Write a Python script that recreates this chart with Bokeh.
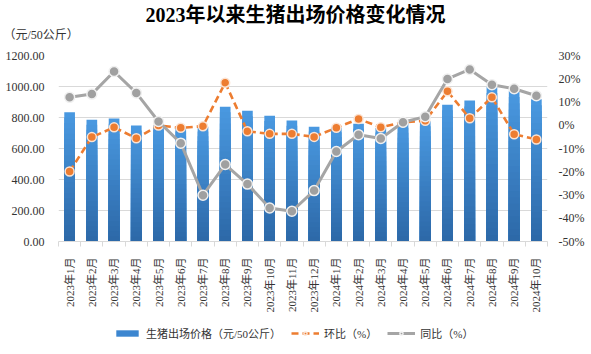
from bokeh.plotting import figure
from bokeh.layouts import column
from bokeh.models import (Range1d, LinearAxis, FixedTicker, PrintfTickFormatter,
                          Legend, LegendItem, Title, ColumnDataSource)
from bokeh.embed import file_html
from bokeh.resources import INLINE

months = ["2023年1月", "2023年2月", "2023年3月", "2023年4月", "2023年5月", "2023年6月",
          "2023年7月", "2023年8月", "2023年9月", "2023年10月", "2023年11月", "2023年12月",
          "2024年1月", "2024年2月", "2024年3月", "2024年4月", "2024年5月", "2024年6月",
          "2024年7月", "2024年8月", "2024年9月", "2024年10月"]
price = [834, 786, 793, 748, 752, 741, 741, 870, 844, 812, 780, 741,
         735, 759, 733, 765, 776, 883, 909, 1000, 973, 917]
mom = [-19.9, -5.1, -0.9, -5.6, -0.1, -1.1, -0.4, 18.3, -2.6, -3.7, -3.7, -5.0,
       -1.1, 2.7, -0.9, 1.3, 1.9, 14.6, 3.0, 12.0, -3.9, -6.1]
yoy = [12.0, 13.4, 23.1, 13.9, 1.6, -7.7, -30.1, -16.9, -25.3, -35.6, -37.0, -28.1,
       -11.3, -4.1, -5.7, 1.3, 3.7, 19.9, 24.0, 17.4, 15.7, 12.7]
left_ticks = [0, 200, 400, 600, 800, 1000, 1200]
right_ticks = [-50, -40, -30, -20, -10, 0, 10, 20, 30]

FONT = "'Liberation Serif', 'Noto Sans CJK SC'"
TXT = "#333333"
BAR_C = "#3C86D0"
W = 591
n = len(months)
centers = [i + 0.5 for i in range(n)]
bounds = list(range(n + 1))


def bare(fig):
    fig.outline_line_color = None
    fig.background_fill_color = "white"
    fig.border_fill_color = "white"
    return fig


# ---------- main chart ----------
p = bare(figure(width=W, height=318, x_range=Range1d(0, n), y_range=Range1d(0, 1200),
                output_backend="svg", toolbar_location=None,
                min_border_left=58, min_border_right=44, min_border_top=55,
                min_border_bottom=77))

# titles (unit is the inner one, main title the outer one)
p.title.text = "2023年以来生猪出场价格变化情况"
p.title.align = "left"
p.title.offset = 87
p.title.text_font = FONT
p.title.text_font_size = "20px"
p.title.text_font_style = "bold"
p.title.text_color = "#000000"
p.title.standoff = -28
unit = Title(text="（元/50公斤）", align="left", offset=-55, text_font=FONT,
             text_font_size="12px", text_font_style="normal", text_color=TXT,
             standoff=28)
p.add_layout(unit, "above")

p.yaxis.ticker = FixedTicker(ticks=left_ticks)
p.yaxis.formatter = PrintfTickFormatter(format="%.2f")
p.yaxis.axis_line_color = None
p.yaxis.major_tick_line_color = None
p.yaxis.minor_tick_line_color = None
p.yaxis.major_label_text_font = FONT
p.yaxis.major_label_text_font_size = "12px"
p.yaxis.major_label_text_color = TXT
p.yaxis.major_label_standoff = 8
p.ygrid.ticker = FixedTicker(ticks=left_ticks)
p.ygrid.grid_line_color = "#D9D9D9"
p.xgrid.grid_line_color = None

p.extra_y_ranges = {"pct": Range1d(-50, 30)}
ax_r = LinearAxis(y_range_name="pct", ticker=FixedTicker(ticks=right_ticks),
                  formatter=PrintfTickFormatter(format="%d%%"))
ax_r.axis_line_color = None
ax_r.major_tick_line_color = None
ax_r.minor_tick_line_color = None
ax_r.major_label_text_font = FONT
ax_r.major_label_text_font_size = "12px"
ax_r.major_label_text_color = TXT
ax_r.major_label_standoff = 5
p.add_layout(ax_r, "right")

p.xaxis.ticker = FixedTicker(ticks=centers, minor_ticks=bounds)
p.xaxis.major_label_overrides = {c: m for c, m in zip(centers, months)}
p.xaxis.major_label_orientation = 3.14159265 / 2
p.xaxis.major_label_text_font = FONT
p.xaxis.major_label_text_font_size = "11px"
p.xaxis.major_label_text_color = TXT
p.xaxis.major_tick_line_color = None
p.xaxis.minor_tick_line_color = "#D9D9D9"
p.xaxis.minor_tick_out = 5
p.xaxis.minor_tick_in = 0
p.xaxis.axis_line_color = "#D9D9D9"
p.xaxis.major_label_standoff = 10

# gradient bars: nested bars, lightest (full height) first, darker shorter ones on top
N = 24
top_c = (0x4A, 0x99, 0xE1)
bot_c = (0x2C, 0x68, 0xA7)
xs, tops, cols = [], [], []
for k in range(N - 1, -1, -1):
    t = (k + 0.5) / N
    col = "#%02x%02x%02x" % tuple(int(round(bot_c[j] + (top_c[j] - bot_c[j]) * t)) for j in range(3))
    for c, v in zip(centers, price):
        xs.append(c)
        tops.append(v * (k + 1) / N)
        cols.append(col)
src = ColumnDataSource(dict(x=xs, top=tops, color=cols))
p.vbar(x="x", bottom=0, top="top", width=0.48, fill_color="color", line_color=None, source=src)

LINE1 = dict(line_color="#ED7D31", line_width=2.6, line_dash="7 4")
MK1 = dict(size=9, fill_color="#ED7D31", line_color="#FBE3D3", line_width=1.5)
LINE2 = dict(line_color="#A5A5A5", line_width=3)
MK2 = dict(size=10, fill_color="#A0A0A0", line_color="#F0F0F0", line_width=1.5)

p.line(centers, mom, y_range_name="pct", **LINE1)
p.scatter(centers, mom, y_range_name="pct", **MK1)
p.line(centers, yoy, y_range_name="pct", **LINE2)
p.scatter(centers, yoy, y_range_name="pct", **MK2)

# ---------- legend strip (its frame is aligned with the chart's frame) ----------
lg = bare(figure(width=W, height=36, x_range=Range1d(0, 1), y_range=Range1d(0, 1),
                 output_backend="svg", toolbar_location=None,
                 x_axis_type=None, y_axis_type=None,
                 min_border=0, min_border_left=0, min_border_right=0,
                 min_border_top=0, min_border_bottom=0))
lg.xgrid.visible = False
lg.ygrid.visible = False
off = [-10]
rb = lg.vbar(x=off, top=off, width=0.5, fill_color=BAR_C, line_color=None)
ra = lg.line(x=off, y=off, **LINE1)
rs = lg.scatter(x=off, y=off, **MK1)
rc = lg.line(x=off, y=off, **LINE2)
rd = lg.scatter(x=off, y=off, **MK2)
legend = Legend(items=[
    LegendItem(label="生猪出场价格（元/50公斤）", renderers=[rb]),
    LegendItem(label="环比（%）", renderers=[ra, rs]),
    LegendItem(label="同比（%）", renderers=[rc, rd]),
], orientation="horizontal", location=(55, 13))
legend.border_line_color = None
legend.background_fill_alpha = 0
legend.padding = 0
legend.margin = 0
legend.spacing = 10
legend.glyph_width = 28
legend.glyph_height = 8
legend.label_standoff = 5
legend.label_height = 10
legend.label_text_font = FONT
legend.label_text_font_size = "11px"
legend.label_text_color = TXT
lg.add_layout(legend, "center")

layout = column(p, lg, spacing=0)
open("out.html", "w").write(file_html(layout, INLINE))
